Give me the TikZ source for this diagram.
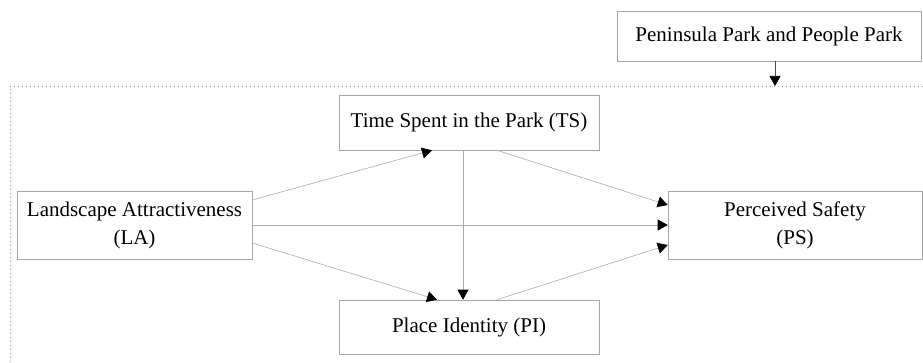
\documentclass[tikz,border=0pt]{standalone}
\usepackage{fontspec}
\setmainfont{Liberation Serif}
\usetikzlibrary{arrows.meta,calc}

\tikzset{
  var/.style={draw=gray!70, line width=0.6pt, align=center, inner sep=0pt,
    font=\fontsize{21}{28}\selectfont},
  path/.style={draw=gray!65, line width=0.6pt,
    -{Triangle[length=10pt, width=11pt, black]}},
}

\begin{document}
\begin{tikzpicture}[x=1pt, y=-1pt]
  \useasboundingbox (0,0) rectangle (923,363);
  % moderator and frame
  \node[var, minimum width=304pt, minimum height=50pt] (park) at (769,36) {Peninsula Park and People Park};
  \draw[gray!85, line width=0.9pt, dash pattern=on 0.9pt off 3.1pt] (923,86) -- (10,86) -- (10,363);
  \coordinate (frame) at (775,86);
  \draw[draw=black!70, line width=0.6pt, -{Triangle[length=10pt, width=11pt, black]}] (park.south -| frame) -- (frame);
  % variables
  \node[var, minimum width=260pt, minimum height=55pt] (ts) at (469,122.5) {Time Spent in the Park (TS)};
  \node[var, minimum width=235pt, minimum height=68pt] (la) at (134.5,225) {Landscape Attractiveness\\(LA)};
  \node[var, minimum width=254pt, minimum height=68pt] (ps) at (795,225) {Perceived Safety\\(PS)};
  \node[var, minimum width=260pt, minimum height=54pt] (pi) at (469,327) {Place Identity (PI)};
  % paths
  \draw[path] ($(la.east)+(0,-25)$) -- ($(ts.south)+(-37,0)$);
  \draw[path] (la.east) -- (ps.west);
  \draw[path] ($(la.east)+(0,18)$) -- ($(pi.north)+(-32,0)$);
  \draw[path] ($(ts.south)+(28,0)$) -- ($(ps.west)+(0,-20)$);
  \draw[path] ($(ts.south)+(-6,0)$) -- ($(pi.north)+(-6,0)$);
  \draw[path] ($(pi.north)+(28,0)$) -- ($(ps.west)+(0,20)$);
\end{tikzpicture}
\end{document}
